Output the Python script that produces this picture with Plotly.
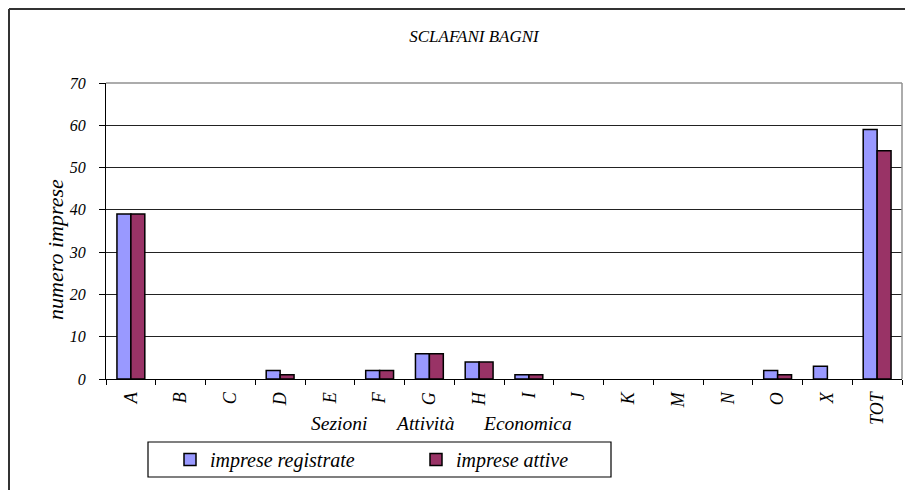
import plotly.graph_objects as go

categories = ["A", "B", "C", "D", "E", "F", "G", "H", "I", "J", "K", "M", "N", "O", "X", "TOT"]
imprese_registrate = [39, 0, 0, 2, 0, 2, 6, 4, 1, 0, 0, 0, 0, 2, 3, 59]
imprese_attive = [39, 0, 0, 1, 0, 2, 6, 4, 1, 0, 0, 0, 0, 1, 0, 54]
y_ticks = [0, 10, 20, 30, 40, 50, 60, 70]

FONT = "'Times New Roman', 'Liberation Serif', 'DejaVu Serif', serif"
W, H = 913, 490
D = 8  # page (body) offset of the figure inside the window
# target screen positions of the plot area
SX0, SX1, SY0, SY1 = 106, 902, 83, 379
L, T = SX0 - D, SY0 - D
R = W - (SX1 - D)
B = H - (SY1 - D)
pw, ph = W - L - R, H - T - B


def px_x(sx):
    return (sx - D - L) / pw


def px_y(sy):
    return (H - B - (sy - D)) / ph


def outline(values):
    return [1.5 if v else 0 for v in values]


fig = go.Figure()
fig.add_trace(go.Bar(
    x=categories, y=imprese_registrate, name="imprese registrate",
    marker=dict(color="#9999FF", line=dict(color="#000000", width=outline(imprese_registrate))),
))
fig.add_trace(go.Bar(
    x=categories, y=imprese_attive, name="imprese attive",
    marker=dict(color="#993366", line=dict(color="#000000", width=outline(imprese_attive))),
))

fig.update_layout(
    width=W, height=H,
    margin=dict(l=L, r=R, t=T, b=B),
    paper_bgcolor="white", plot_bgcolor="white",
    font=dict(family=FONT, color="black", size=14, style="italic"),
    barmode="group", bargap=0.44, bargroupgap=0,
    showlegend=True,
    legend=dict(
        orientation="h",
        x=px_x(170), y=px_y(440), xanchor="left", yanchor="top",
        borderwidth=0, bgcolor="rgba(0,0,0,0)",
        font=dict(family=FONT, size=20, style="italic"),
        entrywidth=201, entrywidthmode="pixels",
        itemwidth=30,
    ),
    title=dict(
        text="SCLAFANI BAGNI", x=px_x(474), xref="paper", xanchor="center",
        y=1 - (36 - D) / H, yanchor="middle",
        font=dict(family=FONT, size=17, style="italic"),
    ),
)

fig.update_xaxes(
    type="category", showline=True, linecolor="black", linewidth=1,
    ticks="outside", ticklen=5, tickcolor="black", tickson="boundaries",
    tickangle=-90, ticklabelstandoff=5,
    tickfont=dict(family=FONT, size=18, style="italic"),
    showgrid=False,
)
fig.update_yaxes(
    range=[0, 70], tickvals=y_ticks, showline=True, linecolor="black", linewidth=1,
    ticks="outside", ticklen=6, tickcolor="black", ticklabelstandoff=10,
    showgrid=True, gridcolor="#222222", gridwidth=1, zeroline=False,
    tickfont=dict(family=FONT, size=16, style="italic"),
)

# y-axis title placed as in the reference (slightly below the plot centre)
fig.add_annotation(text="numero imprese", x=px_x(55), y=px_y(250), xref="paper", yref="paper",
                   showarrow=False, textangle=-90, xanchor="center", yanchor="middle",
                   font=dict(family=FONT, size=22, style="italic"))

# plot area top/right border (gray)
fig.add_shape(type="line", xref="paper", yref="paper", x0=0, x1=1, y0=1, y1=1,
              line=dict(color="#909090", width=1.5))
fig.add_shape(type="line", xref="paper", yref="paper", x0=1, x1=1, y0=0, y1=1,
              line=dict(color="#909090", width=1.5))
# outer chart frame (top and left visible)
fig.add_shape(type="line", xref="paper", yref="paper", x0=px_x(9), x1=px_x(W + 20),
              y0=px_y(9), y1=px_y(9), line=dict(color="#333333", width=2))
fig.add_shape(type="line", xref="paper", yref="paper", x0=px_x(9), x1=px_x(9),
              y0=px_y(9), y1=px_y(H + 20), line=dict(color="#333333", width=2))
# legend frame
fig.add_shape(type="rect", xref="paper", yref="paper", x0=px_x(148), x1=px_x(611),
              y0=px_y(477), y1=px_y(442), line=dict(color="black", width=1.2))

# x-axis title words
for word, cx in [("Sezioni", 339), ("Attività", 425), ("Economica", 527)]:
    fig.add_annotation(text=word, x=px_x(cx), y=px_y(423), xref="paper", yref="paper",
                       showarrow=False, xanchor="center", yanchor="middle",
                       font=dict(family=FONT, size=19.5, style="italic"))

fig.write_html("out.html")
